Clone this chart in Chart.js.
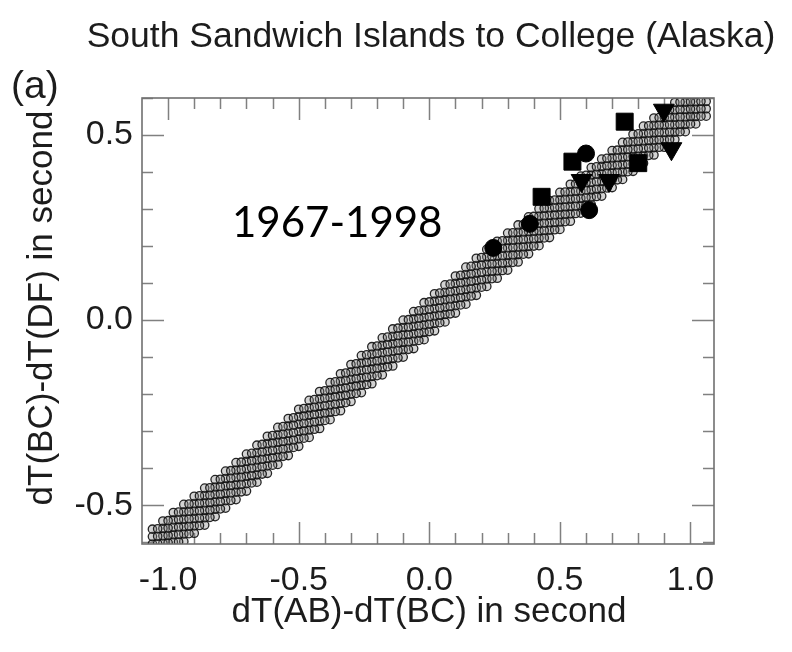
<!DOCTYPE html>
<html>
<head>
<meta charset="utf-8">
<script src="https://cdn.jsdelivr.net/npm/chart.js@4.4.1/dist/chart.umd.min.js"></script>
<style>
  html, body { margin: 0; padding: 0; background: #fff; }
  #wrap { width: 792px; height: 652px; }
</style>
</head>
<body>
<div id="wrap"><canvas id="chart" width="792" height="652"></canvas></div>
<script>
// texts
const titleText = 'South Sandwich Islands to College (Alaska)';
const panelLabel = '(a)';
const periodLabel = '1967-1998';
const xAxisTitle = 'dT(AB)-dT(BC) in second';
const yAxisTitle = 'dT(BC)-dT(DF) in second';

// axis ticks
const xTickValues = [-1.0, -0.5, 0.0, 0.5, 1.0];
const yTickValues = [-0.5, 0.0, 0.5];
const xMinorTicks = [-1.0, -0.9, -0.8, -0.7, -0.6, -0.5, -0.4, -0.3, -0.2, -0.1, 0.0,
                     0.1, 0.2, 0.3, 0.4, 0.5, 0.6, 0.7, 0.8, 0.9, 1.0];
const yMinorTicks = [-0.6, -0.5, -0.4, -0.3, -0.2, -0.1, 0.0, 0.1, 0.2, 0.3, 0.4, 0.5, 0.6];

// band of small open circles, set A: six rows across the band
const bandX = [-1.06,-1.02,-0.98,-0.94,-0.90,-0.86,-0.82,-0.78,-0.74,-0.70,-0.66,-0.62,-0.58,-0.54,
  -0.50,-0.46,-0.42,-0.38,-0.34,-0.30,-0.26,-0.22,-0.18,-0.14,-0.10,-0.06,-0.02,0.02,0.06,0.10,
  0.14,0.18,0.22,0.26,0.30,0.34,0.38,0.42,0.46,0.50,0.54,0.58,0.62,0.66,0.70,0.74,0.78,0.82,
  0.86,0.90,0.94,0.98,1.02,1.06];
const bandRow1 = [-0.665,-0.643,-0.620,-0.598,-0.576,-0.554,-0.531,-0.508,-0.485,-0.462,-0.438,-0.414,-0.390,-0.366,
  -0.341,-0.317,-0.293,-0.269,-0.245,-0.220,-0.196,-0.172,-0.148,-0.124,-0.100,-0.077,-0.053,-0.029,-0.005,0.019,
  0.043,0.067,0.091,0.113,0.135,0.157,0.179,0.201,0.223,0.245,0.267,0.289,0.312,0.335,0.358,0.380,0.402,0.424,
  0.446,0.467,0.488,0.509,0.530,0.551];
const bandRow2 = [-0.645,-0.623,-0.600,-0.578,-0.556,-0.534,-0.511,-0.488,-0.465,-0.442,-0.418,-0.394,-0.370,-0.346,
  -0.321,-0.297,-0.273,-0.249,-0.225,-0.200,-0.176,-0.152,-0.128,-0.104,-0.080,-0.057,-0.033,-0.009,0.015,0.039,
  0.063,0.087,0.111,0.133,0.155,0.177,0.199,0.221,0.243,0.265,0.287,0.309,0.332,0.355,0.378,0.400,0.422,0.444,
  0.466,0.487,0.508,0.529,0.550,0.571];
const bandRow3 = [-0.625,-0.603,-0.580,-0.558,-0.536,-0.514,-0.491,-0.468,-0.445,-0.422,-0.398,-0.374,-0.350,-0.326,
  -0.301,-0.277,-0.253,-0.229,-0.205,-0.180,-0.156,-0.132,-0.108,-0.084,-0.060,-0.037,-0.013,0.011,0.035,0.059,
  0.083,0.107,0.131,0.153,0.175,0.197,0.219,0.241,0.263,0.285,0.307,0.329,0.352,0.375,0.398,0.420,0.442,0.464,
  0.486,0.507,0.528,0.549,0.570,0.591];
const bandRow4 = [-0.605,-0.583,-0.560,-0.538,-0.516,-0.494,-0.471,-0.448,-0.425,-0.402,-0.378,-0.354,-0.330,-0.306,
  -0.281,-0.257,-0.233,-0.209,-0.185,-0.160,-0.136,-0.112,-0.088,-0.064,-0.040,-0.017,0.007,0.031,0.055,0.079,
  0.103,0.127,0.151,0.173,0.195,0.217,0.239,0.261,0.283,0.305,0.327,0.349,0.372,0.395,0.418,0.440,0.462,0.484,
  0.506,0.527,0.548,0.569,0.590,0.611];
const bandRow5 = [-0.585,-0.563,-0.540,-0.518,-0.496,-0.474,-0.451,-0.428,-0.405,-0.382,-0.358,-0.334,-0.310,-0.286,
  -0.261,-0.237,-0.213,-0.189,-0.165,-0.140,-0.116,-0.092,-0.068,-0.044,-0.020,0.003,0.027,0.051,0.075,0.099,
  0.123,0.147,0.171,0.193,0.215,0.237,0.259,0.281,0.303,0.325,0.347,0.369,0.392,0.415,0.438,0.460,0.482,0.504,
  0.526,0.547,0.568,0.589,0.610,0.631];
const bandRow6 = [-0.565,-0.543,-0.520,-0.498,-0.476,-0.454,-0.431,-0.408,-0.385,-0.362,-0.338,-0.314,-0.290,-0.266,
  -0.241,-0.217,-0.193,-0.169,-0.145,-0.120,-0.096,-0.072,-0.048,-0.024,0.000,0.023,0.047,0.071,0.095,0.119,
  0.143,0.167,0.191,0.213,0.235,0.257,0.279,0.301,0.323,0.345,0.367,0.389,0.412,0.435,0.458,0.480,0.502,0.524,
  0.546,0.567,0.588,0.609,0.630,0.651];

// band set B: in-between columns, five rows
const bandXB = [-1.04,-1.00,-0.96,-0.92,-0.88,-0.84,-0.80,-0.76,-0.72,-0.68,-0.64,-0.60,-0.56,-0.52,
  -0.48,-0.44,-0.40,-0.36,-0.32,-0.28,-0.24,-0.20,-0.16,-0.12,-0.08,-0.04,0.00,0.04,0.08,0.12,
  0.16,0.20,0.24,0.28,0.32,0.36,0.40,0.44,0.48,0.52,0.56,0.60,0.64,0.68,0.72,0.76,0.80,0.84,
  0.88,0.92,0.96,1.00,1.04];
const bandRowB1 = [-0.644,-0.622,-0.599,-0.577,-0.555,-0.533,-0.510,-0.487,-0.464,-0.440,-0.416,-0.392,-0.368,-0.344,
  -0.319,-0.295,-0.271,-0.247,-0.223,-0.198,-0.174,-0.150,-0.126,-0.102,-0.079,-0.055,-0.031,-0.007,0.017,0.041,
  0.065,0.089,0.112,0.134,0.156,0.178,0.200,0.222,0.244,0.266,0.288,0.311,0.334,0.357,0.379,0.401,0.423,0.445,
  0.467,0.488,0.509,0.530,0.551];
const bandRowB2 = [-0.624,-0.602,-0.579,-0.557,-0.535,-0.513,-0.490,-0.467,-0.444,-0.420,-0.396,-0.372,-0.348,-0.324,
  -0.299,-0.275,-0.251,-0.227,-0.203,-0.178,-0.154,-0.130,-0.106,-0.082,-0.059,-0.035,-0.011,0.013,0.037,0.061,
  0.085,0.109,0.132,0.154,0.176,0.198,0.220,0.242,0.264,0.286,0.308,0.331,0.354,0.377,0.399,0.421,0.443,0.465,
  0.487,0.508,0.529,0.550,0.571];
const bandRowB3 = [-0.604,-0.582,-0.559,-0.537,-0.515,-0.493,-0.470,-0.447,-0.424,-0.400,-0.376,-0.352,-0.328,-0.304,
  -0.279,-0.255,-0.231,-0.207,-0.183,-0.158,-0.134,-0.110,-0.086,-0.062,-0.039,-0.015,0.009,0.033,0.057,0.081,
  0.105,0.129,0.152,0.174,0.196,0.218,0.240,0.262,0.284,0.306,0.328,0.351,0.374,0.397,0.419,0.441,0.463,0.485,
  0.507,0.528,0.549,0.570,0.591];
const bandRowB4 = [-0.584,-0.562,-0.539,-0.517,-0.495,-0.473,-0.450,-0.427,-0.404,-0.380,-0.356,-0.332,-0.308,-0.284,
  -0.259,-0.235,-0.211,-0.187,-0.163,-0.138,-0.114,-0.090,-0.066,-0.042,-0.019,0.005,0.029,0.053,0.077,0.101,
  0.125,0.149,0.172,0.194,0.216,0.238,0.260,0.282,0.304,0.326,0.348,0.371,0.394,0.417,0.439,0.461,0.483,0.505,
  0.527,0.548,0.569,0.590,0.611];
const bandRowB5 = [-0.564,-0.542,-0.519,-0.497,-0.475,-0.453,-0.430,-0.407,-0.384,-0.360,-0.336,-0.312,-0.288,-0.264,
  -0.239,-0.215,-0.191,-0.167,-0.143,-0.118,-0.094,-0.070,-0.046,-0.022,0.001,0.025,0.049,0.073,0.097,0.121,
  0.145,0.169,0.192,0.214,0.236,0.258,0.280,0.302,0.324,0.346,0.368,0.391,0.414,0.437,0.459,0.481,0.503,0.525,
  0.547,0.568,0.589,0.610,0.631];

// large solid symbols
const circleX = [0.245, 0.385, 0.600, 0.612];
const circleY = [0.195, 0.260, 0.450, 0.297];
const squareX = [0.430, 0.548, 0.748, 0.800];
const squareY = [0.333, 0.428, 0.536, 0.424];
const triangleX = [0.583, 0.688, 0.898, 0.927];
const triangleY = [0.377, 0.377, 0.567, 0.463];

const sansFont = "'Liberation Sans', Arial, Helvetica, sans-serif";
const textColor = '#1c1c1c';

const bandPoints = [];
function addBand(xs, rows) {
    xs.forEach(function(x, i) {
        rows.forEach(function(row) {
            bandPoints.push({ x: x, y: row[i] });
        });
    });
}
addBand(bandX, [bandRow1, bandRow2, bandRow3, bandRow4, bandRow5, bandRow6]);
addBand(bandXB, [bandRowB1, bandRowB2, bandRowB3, bandRowB4, bandRowB5]);

function toPoints(xs, ys) {
    return xs.map(function(x, i) { return { x: x, y: ys[i] }; });
}

/**
 * Frame, inward tick marks and the free texts
 */
const framePlugin = {
    id: 'frameAndTexts',
    beforeDatasetsDraw(chart) {
        const ctx = chart.ctx;
        const a = chart.chartArea;
        const xs = chart.scales.x;
        const ys = chart.scales.y;
        ctx.save();
        ctx.strokeStyle = '#808080';
        ctx.lineWidth = 1.5;
        ctx.beginPath();
        xMinorTicks.forEach(function(v) {
            const px = Math.round(xs.getPixelForValue(v)) + 0.5;
            const len = xTickValues.includes(v) ? 22 : 11;
            ctx.moveTo(px, a.bottom); ctx.lineTo(px, a.bottom - len);
            ctx.moveTo(px, a.top); ctx.lineTo(px, a.top + len);
        });
        yMinorTicks.forEach(function(v) {
            const py = Math.round(ys.getPixelForValue(v)) + 0.5;
            const len = yTickValues.includes(v) ? 22 : 11;
            ctx.moveTo(a.left, py); ctx.lineTo(a.left + len, py);
            ctx.moveTo(a.right, py); ctx.lineTo(a.right - len, py);
        });
        ctx.stroke();
        ctx.restore();
    },
    afterDraw(chart) {
        const ctx = chart.ctx;
        const a = chart.chartArea;
        ctx.save();
        ctx.strokeStyle = '#707070';
        ctx.lineWidth = 1.6;
        ctx.strokeRect(a.left, a.top, a.right - a.left, a.bottom - a.top);

        ctx.fillStyle = textColor;
        ctx.textBaseline = 'alphabetic';
        ctx.font = '35.5px ' + sansFont;
        ctx.textAlign = 'center';
        ctx.fillText(titleText, 431, 47);
        ctx.font = '35px ' + sansFont;
        ctx.fillText(xAxisTitle, 429, 622);

        ctx.save();
        ctx.translate(52, 308);
        ctx.rotate(-Math.PI / 2);
        ctx.fillText(yAxisTitle, 0, 0);
        ctx.restore();

        ctx.textAlign = 'left';
        ctx.font = '39px ' + sansFont;
        ctx.fillText(panelLabel, 11, 98);

        ctx.fillStyle = '#000';
        ctx.font = "42px Lato, 'Open Sans', sans-serif";
        ctx.fillText(periodLabel, 232, 237);
        ctx.restore();
    }
};

new Chart(document.getElementById('chart'), {
    type: 'scatter',
    data: {
        datasets: [
            {
                label: 'circles',
                data: toPoints(circleX, circleY),
                pointStyle: 'circle',
                pointRadius: 8.5,
                borderWidth: 1,
                borderColor: '#000',
                backgroundColor: '#000',
                order: 0
            },
            {
                label: 'squares',
                data: toPoints(squareX, squareY),
                pointStyle: 'rect',
                pointRadius: 12,
                borderWidth: 1,
                borderColor: '#000',
                backgroundColor: '#000',
                order: 0
            },
            {
                label: 'triangles',
                data: toPoints(triangleX, triangleY),
                pointStyle: 'triangle',
                rotation: 180,
                pointRadius: 12,
                borderWidth: 1,
                borderColor: '#000',
                backgroundColor: '#000',
                order: 0
            },
            {
                label: 'band',
                data: bandPoints,
                pointStyle: 'circle',
                pointRadius: 4.2,
                borderWidth: 1.3,
                borderColor: 'rgba(15, 15, 15, 0.9)',
                backgroundColor: 'rgba(130, 130, 130, 0.35)',
                clip: 0,
                order: 5
            }
        ]
    },
    options: {
        responsive: false,
        animation: false,
        layout: { padding: { top: 98, right: 78, bottom: 0, left: 0 } },
        plugins: {
            legend: { display: false },
            tooltip: { enabled: false },
            title: { display: false }
        },
        scales: {
            x: {
                type: 'linear',
                min: -1.1,
                max: 1.09,
                grid: { display: false, drawTicks: false },
                border: { display: false },
                afterBuildTicks: function(scale) {
                    scale.ticks = xTickValues.map(function(v) { return { value: v }; });
                },
                afterFit: function(scale) { scale.height = 108; },
                ticks: {
                    padding: 16,
                    color: textColor,
                    font: { family: sansFont, size: 34 },
                    callback: function(v) { return Number(v).toFixed(1); }
                }
            },
            y: {
                type: 'linear',
                min: -0.605,
                max: 0.6,
                grid: { display: false, drawTicks: false },
                border: { display: false },
                afterBuildTicks: function(scale) {
                    scale.ticks = yTickValues.map(function(v) { return { value: v }; });
                },
                afterFit: function(scale) { scale.width = 142; },
                ticks: {
                    padding: 9,
                    color: textColor,
                    font: { family: sansFont, size: 34 },
                    callback: function(v) { return Number(v).toFixed(1); }
                }
            }
        }
    },
    plugins: [framePlugin]
});
</script>
</body>
</html>
